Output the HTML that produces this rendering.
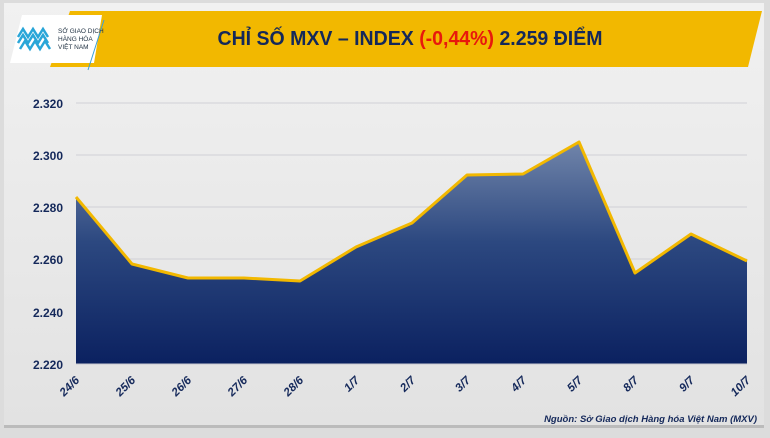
<!DOCTYPE html>
<html><head><meta charset="utf-8"><style>
body{margin:0;width:770px;height:433px;overflow:hidden;background:#dcdcdc;font-family:"Liberation Sans",sans-serif}
</style></head><body>
<svg width="770" height="433" xmlns="http://www.w3.org/2000/svg">
<defs>
<linearGradient id="g" x1="0" y1="0" x2="0" y2="1"><stop offset="0" stop-color="#7185aa"/><stop offset="0.45" stop-color="#2c4880"/><stop offset="1" stop-color="#0b2160"/></linearGradient>
<linearGradient id="bg" x1="0" y1="0" x2="0" y2="1"><stop offset="0" stop-color="#f1f1f1"/><stop offset="1" stop-color="#e2e2e2"/></linearGradient>
</defs>
<rect x="4" y="3" width="760" height="424" fill="url(#bg)"/>
<rect x="4" y="425" width="760" height="3" fill="#bbb"/>
<polygon points="70,11 762,11 748,67 50,67" fill="#f2b800"/>
<polygon points="22,15 102,15 94,63 10,63" fill="#fff"/>
<line x1="104" y1="20" x2="88" y2="70" stroke="#3aa0d8" stroke-width="1"/>
<g fill="none" stroke="#2aa6d8" stroke-width="2.5">
<path d="M18 37 l5 -8 5 8 5 -8 5 8 5 -8 5 8"/><path d="M18 43 l5 -8 5 8 5 -8 5 8 5 -8 5 8"/><path d="M20 49 l5 -8 5 8 5 -8 5 8 5 -8 5 8"/>
</g>
<text x="58" y="33" font-size="6.5" fill="#234">SỞ GIAO DỊCH</text>
<text x="58" y="41" font-size="6.5" fill="#234">HÀNG HÓA</text>
<text x="58" y="49" font-size="6.5" fill="#234">VIỆT NAM</text>
<text x="410" y="45" text-anchor="middle" font-size="20" font-weight="bold" fill="#14285a" textLength="385" lengthAdjust="spacingAndGlyphs">CHỈ SỐ MXV – INDEX <tspan fill="#e8180c">(-0,44%)</tspan> 2.259 ĐIỂM</text>
<g stroke="#d0d0d6" stroke-width="1">
<line x1="76" y1="103" x2="747" y2="103"/><line x1="76" y1="155" x2="747" y2="155"/><line x1="76" y1="207" x2="747" y2="207"/><line x1="76" y1="259" x2="747" y2="259"/><line x1="76" y1="312" x2="747" y2="312"/>
</g>
<g font-size="12" font-weight="bold" fill="#14285a" text-anchor="end">
<text x="63" y="108">2.320</text><text x="63" y="160">2.300</text><text x="63" y="212">2.280</text><text x="63" y="264">2.260</text><text x="63" y="317">2.240</text><text x="63" y="369">2.220</text>
</g>
<path d="M76 197 L132 264 L188 278 L244 278 L300 281 L356 247 L412 223 L467 175 L523 174 L579 142 L635 273 L691 234 L747 261 L747 364 L76 364 Z" fill="url(#g)"/>
<polyline points="76,197 132,264 188,278 244,278 300,281 356,247 412,223 467,175 523,174 579,142 635,273 691,234 747,261" fill="none" stroke="#f2b800" stroke-width="3" stroke-linejoin="round"/>
<line x1="76" y1="364" x2="747" y2="364" stroke="#c8c8d0"/>
<g font-size="11.5" font-weight="bold" font-style="italic" fill="#14285a" text-anchor="end">
<text transform="translate(80,381) rotate(-45)">24/6</text>
<text transform="translate(136,381) rotate(-45)">25/6</text>
<text transform="translate(192,381) rotate(-45)">26/6</text>
<text transform="translate(248,381) rotate(-45)">27/6</text>
<text transform="translate(304,381) rotate(-45)">28/6</text>
<text transform="translate(360,381) rotate(-45)">1/7</text>
<text transform="translate(416,381) rotate(-45)">2/7</text>
<text transform="translate(471,381) rotate(-45)">3/7</text>
<text transform="translate(527,381) rotate(-45)">4/7</text>
<text transform="translate(583,381) rotate(-45)">5/7</text>
<text transform="translate(639,381) rotate(-45)">8/7</text>
<text transform="translate(695,381) rotate(-45)">9/7</text>
<text transform="translate(751,381) rotate(-45)">10/7</text>
</g>
<text x="757" y="422" text-anchor="end" font-size="9.5" font-weight="bold" font-style="italic" fill="#14285a">Nguồn: Sở Giao dịch Hàng hóa Việt Nam (MXV)</text>
</svg>
</body></html>
